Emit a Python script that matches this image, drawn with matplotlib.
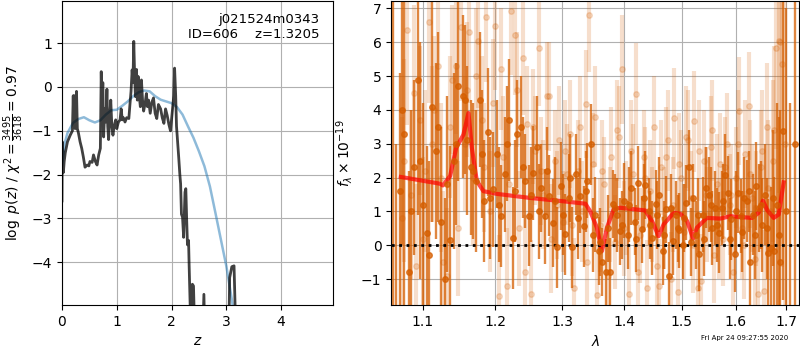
import matplotlib
matplotlib.use('Agg')
import matplotlib.pyplot as plt
import matplotlib.ticker as mticker

# redshift grid and log p(z)
z_pz = [0.00, 0.005, 0.015, 0.025, 0.04, 0.06, 0.10, 0.15, 0.19, 0.205, 0.215, 0.225, 0.24,
        0.265, 0.28, 0.30, 0.33, 0.36, 0.39, 0.42, 0.46, 0.49, 0.51, 0.55, 0.575, 0.61, 0.64,
        0.67, 0.70, 0.716, 0.73, 0.745, 0.76, 0.78, 0.80, 0.82, 0.835, 0.85, 0.87, 0.89, 0.91,
        0.93, 0.95, 0.98, 1.00, 1.03, 1.06, 1.08, 1.10, 1.12, 1.15, 1.18, 1.22, 1.24, 1.26,
        1.28, 1.295, 1.31, 1.325, 1.34, 1.36, 1.375, 1.39, 1.41, 1.43, 1.45, 1.47, 1.49, 1.52,
        1.54, 1.56, 1.58, 1.61, 1.64, 1.67, 1.70, 1.73, 1.76, 1.80, 1.83, 1.86, 1.89, 1.92,
        1.95, 1.98, 2.01, 2.04, 2.055, 2.075, 2.09, 2.10, 2.13, 2.15, 2.165, 2.18, 2.20, 2.22,
        2.245, 2.26, 2.275, 2.29, 2.31, 2.32, 2.35, 2.38, 2.40, 2.43, 2.55, 2.59, 2.62, 2.80,
        3.04, 3.06, 3.10, 3.14, 3.17, 3.30, 5.00]
logpz = [-2.6, -1.25, -1.5, -1.95, -1.7, -1.5, -1.25, -1.1, -1.0, -0.2, -0.9, -0.2, -0.95,
         -0.1, -0.95, -1.05, -1.25, -1.4, -1.6, -1.83, -1.78, -1.8, -1.7, -1.72, -1.55, -1.7, -1.78,
         -1.55, -1.4, 0.35, -0.6, 0.1, -1.14, -0.5, -0.8, -0.05, -0.9, -1.2, -0.7, -0.3, -0.9,
         -1.1, -0.9, -0.75, -0.95, -0.8, -0.75, -0.5, -0.75, -0.7, -0.8, -0.7, -0.72, -0.4, -0.1,
         0.39, 0.1, 1.04, 0.3, -0.22, 0.4, -0.3, 0.24, -0.2, -0.45, 0.16, -0.3, -0.55, -0.35,
         -0.15, -0.45, -0.3, -0.6, -0.35, -0.25, -0.6, -0.72, -0.4, -0.5, -0.7, -0.83, -0.5, -0.65,
         -0.85, -1.0, -0.6, -0.2, 0.43, -0.2, -0.9, -1.07, -1.6, -1.98, -2.21, -2.9, -2.97, -3.43,
         -2.4, -2.32, -3.0, -3.6, -3.5, -4.04, -5.5, -4.5, -4.54, -6.0, -6.5, -4.73, -6.5, -7.0,
         -6.0, -4.35, -4.1, -4.08, -5.5, -8.0, -12.0]

# smooth prior curve
z_prior = [0.0, 0.05, 0.1, 0.2, 0.3, 0.4, 0.5, 0.6, 0.7, 0.8, 0.9, 1.0, 1.1, 1.2, 1.3, 1.4, 1.5,
           1.6, 1.7, 1.8, 1.9, 2.0, 2.1, 2.2, 2.3, 2.4, 2.5, 2.6, 2.7, 2.8, 2.9, 3.0, 3.1, 3.15]
logprior = [-1.8, -1.28, -1.05, -0.82, -0.73, -0.69, -0.76, -0.81, -0.76, -0.63, -0.53, -0.52,
            -0.43, -0.33, -0.21, -0.12, -0.08, -0.10, -0.21, -0.29, -0.33, -0.37, -0.46, -0.63,
            -0.90, -1.16, -1.47, -1.81, -2.27, -2.87, -3.48, -4.09, -4.85, -5.3]

# spectrum, first set (solid)
wave_a = [1.061, 1.065, 1.070, 1.076, 1.082, 1.088, 1.094, 1.100, 1.106, 1.112, 1.118, 1.124,
          1.130, 1.136, 1.142, 1.148, 1.154, 1.160, 1.166, 1.172, 1.178, 1.184, 1.190, 1.196,
          1.202, 1.208, 1.214, 1.220, 1.226, 1.232, 1.238, 1.244, 1.250, 1.256, 1.262, 1.268,
          1.274, 1.280, 1.286, 1.292, 1.298, 1.304, 1.310, 1.316, 1.322, 1.328, 1.334, 1.340,
          1.346, 1.352, 1.358, 1.364, 1.370, 1.376, 1.382, 1.388, 1.394, 1.400, 1.406, 1.412,
          1.418, 1.424, 1.430, 1.436, 1.442, 1.448, 1.454, 1.460, 1.466, 1.472, 1.478, 1.484,
          1.490, 1.496, 1.502, 1.508, 1.514, 1.520, 1.526, 1.532, 1.538, 1.544, 1.550, 1.556,
          1.562, 1.568, 1.574, 1.580, 1.586, 1.592, 1.598, 1.604, 1.610, 1.616, 1.622, 1.628,
          1.634, 1.640, 1.646, 1.652, 1.658, 1.664, 1.670, 1.676, 1.682, 1.688, 1.694, 1.700,
          1.708, 1.718,
          1.073, 1.085, 1.097, 1.109, 1.121, 1.133, 1.145, 1.157, 1.169, 1.181, 1.193, 1.205,
          1.217, 1.229, 1.241, 1.253, 1.265, 1.277, 1.289, 1.301, 1.313, 1.325, 1.337, 1.349,
          1.361, 1.373, 1.385, 1.397, 1.409, 1.421, 1.433, 1.445, 1.457, 1.469, 1.481, 1.493,
          1.505, 1.517, 1.529, 1.541, 1.553, 1.565, 1.577, 1.589, 1.601, 1.613, 1.625, 1.637,
          1.649, 1.661, 1.673, 1.685]
flux_a = [9.0, -3.0, 1.6, 3.3, -0.8, 2.3, 4.9, 1.2, 0.35, 4.1, 2.8, 0.7,
          -1.0, 0.15, 2.5, 4.7, 4.4, 3.1, 2.3, 1.9, 4.3, 1.3, 3.35, 1.65,
          2.7, 0.86, 2.1, 3.7, 0.22, 3.3, 3.5, 1.9, 0.88, 2.14, 2.9, 1.7,
          0.86, 1.47, 0.66, -0.06, 1.75, 0.32, 1.41, -0.06, 2.1, 1.47, 0.56, 1.91,
          2.98, 0.91, -0.17, -0.5, -0.8, -0.78, 1.23, 0.9, 0.41, 1.32, 0.3, 1.7,
          0.7, 1.85, 0.47, 1.78, 1.0, 0.22, 1.22, 1.5, -0.17, 1.06, -0.9, 0.13,
          0.9, 0.44, 0.0, 1.26, 2.3, 1.41, 0.3, -0.26, 0.91, 1.7, 1.5, 0.52,
          1.1, 0.37, 1.1, 2.09, 1.55, 0.77, -0.27, 1.55, 0.86, 1.4, 1.31, -0.5,
          0.9, 1.75, 1.1, 0.6, 1.5, -0.22, -0.08, -0.17, 1.2, -0.5, 3.37, 1.0,
          -4.0, 3.0,
          4.0, 1.0, 2.5, -0.3, 3.5, 1.8, 3.0, 4.3, 2.2, 2.7, 1.4, 1.2,
          3.0, 1.6, 2.3, 1.5, 1.0, 2.2, 1.3, 0.9, 2.0, 0.8, 1.6, 0.3,
          0.1, 0.5, 1.1, 0.6, 1.2, 0.2, 1.4, 0.6, 0.9, 0.3, 1.1, 0.5,
          0.8, 0.1, 0.9, 0.2, 1.2, 0.6, 1.3, 0.2, 1.0, 0.4, 1.6, 0.3,
          1.2, 0.5, 1.4, 0.3]
err_a = [12.0, 6.0, 3.5, 5.5, 3.0, 2.6, 4.0, 3.0, 2.6, 3.4, 2.6, 2.8,
         2.4, 2.8, 2.6, 2.8, 2.4, 2.2, 2.0, 2.1, 2.0, 1.8, 1.9, 1.7,
         1.6, 1.5, 1.7, 1.8, 1.5, 1.6, 1.5, 1.4, 1.5, 1.4, 1.5, 1.3,
         1.4, 1.2, 1.3, 1.2, 1.3, 1.2, 1.3, 1.2, 1.2, 1.1, 1.2, 1.1,
         1.2, 1.1, 1.0, 1.0, 1.0, 1.0, 1.0, 1.1, 1.0, 1.1, 1.0, 1.1,
         1.0, 1.1, 1.0, 1.0, 1.0, 1.1, 1.0, 1.1, 1.0, 1.0, 1.0, 1.0,
         1.0, 1.1, 1.0, 1.1, 1.1, 1.0, 1.0, 1.1, 1.1, 1.2, 1.1, 1.1,
         1.1, 1.2, 1.1, 1.2, 1.1, 1.2, 1.1, 1.2, 1.1, 1.2, 1.2, 1.3,
         1.2, 1.3, 1.3, 1.4, 1.5, 1.6, 1.8, 2.2, 3.0, 4.5, 5.0, 6.0,
         8.2, 12.0,
         4.0, 3.0, 3.5, 2.8, 2.8, 2.6, 2.4, 2.2, 2.0, 1.9, 1.8, 1.7,
         1.7, 1.5, 1.5, 1.4, 1.4, 1.3, 1.3, 1.2, 1.3, 1.2, 1.2, 1.1,
         1.0, 1.0, 1.0, 1.0, 1.1, 1.0, 1.0, 1.0, 1.0, 1.0, 1.0, 1.0,
         1.0, 1.0, 1.1, 1.1, 1.1, 1.1, 1.1, 1.2, 1.2, 1.2, 1.2, 1.3,
         1.3, 1.5, 2.0, 3.5]

# spectrum, second set (faint)
wave_b = [1.073, 1.079, 1.085, 1.091, 1.097, 1.103, 1.109, 1.115, 1.121, 1.127, 1.133, 1.139,
          1.145, 1.151, 1.157, 1.163, 1.169, 1.175, 1.181, 1.187, 1.193, 1.199, 1.205, 1.211,
          1.217, 1.223, 1.229, 1.235, 1.241, 1.247, 1.253, 1.259, 1.265, 1.271, 1.277, 1.283,
          1.289, 1.295, 1.301, 1.307, 1.313, 1.319, 1.325, 1.331, 1.337, 1.343, 1.349, 1.355,
          1.361, 1.367, 1.373, 1.379, 1.385, 1.391, 1.397, 1.403, 1.409, 1.415, 1.421, 1.427,
          1.433, 1.439, 1.445, 1.451, 1.457, 1.463, 1.469, 1.475, 1.481, 1.487, 1.493, 1.499,
          1.505, 1.511, 1.517, 1.523, 1.529, 1.535, 1.541, 1.547, 1.553, 1.559, 1.565, 1.571,
          1.577, 1.583, 1.589, 1.595, 1.601, 1.607, 1.613, 1.619, 1.625, 1.631, 1.637, 1.643,
          1.649, 1.655, 1.661, 1.667, 1.673, 1.679, 1.685, 1.691, 1.697,
          1.076, 1.088, 1.100, 1.112, 1.124, 1.136, 1.148, 1.160, 1.172, 1.184, 1.196, 1.208,
          1.220, 1.232, 1.244, 1.256, 1.268, 1.280, 1.292, 1.304, 1.316, 1.328, 1.340, 1.352,
          1.364, 1.376, 1.388, 1.400, 1.412, 1.424, 1.436, 1.448, 1.460, 1.472, 1.484, 1.496,
          1.508, 1.520, 1.532, 1.544, 1.556, 1.568, 1.580, 1.592, 1.604, 1.616, 1.628, 1.640,
          1.652, 1.664, 1.676, 1.688]
flux_b = [0.8, 6.35, 1.5, -0.6, 3.7, 2.2, 6.6, 4.0, 5.3, -0.5, -0.9, 4.9,
          5.3, 6.46, 3.0, 6.3, 2.0, 6.05, 3.7, 6.74, 1.0, 6.48, -1.5, 2.6,
          -1.2, 6.92, 6.23, 0.5, 5.54, 3.6, -1.45, 2.8, 5.82, 1.5, 4.42, 0.2,
          2.5, 3.1, 0.7, 2.1, 3.3, -1.27, 2.2, 1.0, 4.18, 6.82, 2.4, -1.47,
          0.6, 1.8, -0.9, 2.6, 0.1, 3.2, 5.2, 1.1, -1.45, 2.1, 4.47, 0.3,
          2.6, -1.25, 1.6, 3.5, -0.6, 2.3, 0.8, 3.1, -1.0, 3.75, -1.37, 2.0,
          0.4, 3.1, 1.4, 3.66, -1.25, -1.06, 2.5, 0.9, 2.9, -0.3, 1.8, 2.4,
          0.2, 3.0, 1.2, -0.8, 2.0, 3.96, 0.5, 2.7, 4.11, 1.4, -0.4, -1.45,
          2.3, -1.35, 3.5, 1.0, 2.5, 5.84, 6.05, 5.36, 3.0,
          2.5, 4.5, 0.2, 3.0, 2.0, 3.5, 0.5, 4.6, 5.0, 2.3, 4.2, 5.2,
          1.8, 4.6, -0.8, 3.5, 2.2, 4.4, 1.2, 2.8, 0.6, 3.5, -0.5, 3.8,
          2.2, 0.9, 3.4, 0.5, 2.8, -0.8, 2.0, 0.9, -1.2, 2.6, 1.2, 2.4,
          3.2, 0.0, 2.8, 1.5, 3.4, 0.5, 2.3, 1.5, 3.0, 0.0, 2.1, 1.1,
          2.8, 1.7, 3.4, 6.0]
err_b = [3.0, 2.8, 2.5, 2.4, 2.2, 2.4, 2.4, 2.2, 2.3, 2.1, 2.0, 2.2,
         2.0, 2.2, 2.0, 2.1, 2.0, 2.0, 1.9, 1.9, 1.8, 1.9, 1.8, 1.8,
         1.7, 1.9, 1.8, 1.7, 1.7, 1.7, 1.6, 1.6, 1.7, 1.6, 1.6, 1.6,
         1.5, 1.6, 1.5, 1.5, 1.6, 1.5, 1.5, 1.5, 1.6, 1.7, 1.5, 1.5,
         1.4, 1.4, 1.5, 1.5, 1.4, 1.5, 1.6, 1.4, 1.4, 1.5, 1.5, 1.4,
         1.4, 1.4, 1.5, 1.5, 1.4, 1.4, 1.5, 1.5, 1.4, 1.5, 1.4, 1.4,
         1.4, 1.5, 1.4, 1.5, 1.4, 1.4, 1.5, 1.4, 1.5, 1.4, 1.5, 1.5,
         1.4, 1.5, 1.5, 1.5, 1.5, 1.6, 1.5, 1.6, 1.6, 1.6, 1.6, 1.7,
         1.7, 1.8, 1.9, 2.0, 2.4, 3.0, 4.5, 6.0, 7.0,
         3.0, 2.6, 2.4, 2.3, 2.2, 2.1, 2.0, 2.0, 2.0, 1.9, 1.9, 1.8,
         1.8, 1.7, 1.7, 1.7, 1.6, 1.6, 1.6, 1.5, 1.5, 1.5, 1.5, 1.5,
         1.5, 1.4, 1.5, 1.4, 1.5, 1.4, 1.5, 1.4, 1.4, 1.5, 1.4, 1.5,
         1.5, 1.4, 1.5, 1.4, 1.5, 1.5, 1.5, 1.5, 1.6, 1.6, 1.6, 1.7,
         1.8, 2.0, 2.5, 6.0]

# best-fit model
wave_m = [1.0716, 1.1232, 1.1269, 1.1368, 1.1450, 1.1550, 1.1620, 1.1667, 1.1737, 1.1830,
          1.2022, 1.2512, 1.3023, 1.3366, 1.3446, 1.3552, 1.3634, 1.3716, 1.3825, 1.3936,
          1.4360, 1.4476, 1.4592, 1.4680, 1.4857, 1.4977, 1.5098, 1.5207, 1.5276, 1.5459,
          1.5710, 1.5899, 1.6317, 1.6447, 1.6534, 1.6614, 1.6747, 1.6848, 1.6949]
flux_m = [2.02, 1.82, 1.77, 2.05, 2.88, 3.27, 3.91, 2.88, 1.9, 1.6,
          1.52, 1.4, 1.3, 1.23, 1.0, 0.52, -0.17, 0.52, 1.06, 1.11,
          1.03, 0.72, 0.27, 0.62, 0.96, 0.93, 0.72, 0.2, 0.52, 0.81,
          0.79, 0.86, 0.81, 0.96, 1.32, 1.05, 0.81, 0.91, 1.86]

wave_ticks = [1.1, 1.2, 1.3, 1.4, 1.5, 1.6, 1.7]
G141_COLOR = (0.8352941176470589, 0.3686274509803922, 0.0)


def main():
    fig = plt.figure(figsize=(8, 3.5), dpi=100)

    ax = fig.add_axes([0.0775, 0.129, 0.339, 0.868])
    ax.plot(z_prior, logprior, color='#1f77b4', alpha=0.5, lw=1.8)
    ax.plot(z_pz, logpz, color='k', alpha=0.75, lw=2)
    ax.set_xlim(0, 4.95)
    ax.set_ylim(-4.97, 1.96)
    ax.set_xticks([0, 1, 2, 3, 4])
    ax.set_yticks([-4, -3, -2, -1, 0, 1])
    ax.grid()
    ax.set_xlabel(r'$z$')
    ax.set_ylabel(r'$\log\ p(z)$' + ' / ' + r'$\chi^2=\frac{3495}{3618}=0.97$')
    ax.text(0.95, 0.96, 'j021524m0343\nID=606    z=1.3205', ha='right', va='top',
            transform=ax.transAxes, fontsize=9.5)

    ax = fig.add_axes([0.489, 0.129, 0.51, 0.868])
    ax.errorbar(wave_b, flux_b, err_b, marker='o', ms=4, linestyle='None',
                color=G141_COLOR, alpha=0.2, elinewidth=3)
    ax.errorbar(wave_a, flux_a, err_a, marker='o', ms=4, linestyle='None',
                color=G141_COLOR, alpha=0.75, elinewidth=1.7)
    ax.plot(wave_m, flux_m, color='r', alpha=0.7, lw=3)
    ax.plot([1.05, 1.74], [0, 0], color='k', linestyle=':', lw=2)

    ax.set_xscale('log')
    ax.set_xlim(1.0593, 1.7267)
    ax.set_ylim(-1.76, 7.22)
    ax.set_xticks(wave_ticks)
    ax.xaxis.set_major_formatter(mticker.FormatStrFormatter('%.1f'))
    ax.xaxis.set_minor_locator(mticker.NullLocator())
    ax.set_yticks(range(-1, 8))
    ax.grid()
    ax.set_xlabel(r'$\lambda$')
    ax.set_ylabel(r'$f_\lambda \times 10^{-19}$')

    fig.text(0.985, 0.025, 'Fri Apr 24 09:27:55 2020', ha='right', va='bottom', fontsize=5)

    fig.savefig('out.png', dpi=100)


if __name__ == '__main__':
    main()
